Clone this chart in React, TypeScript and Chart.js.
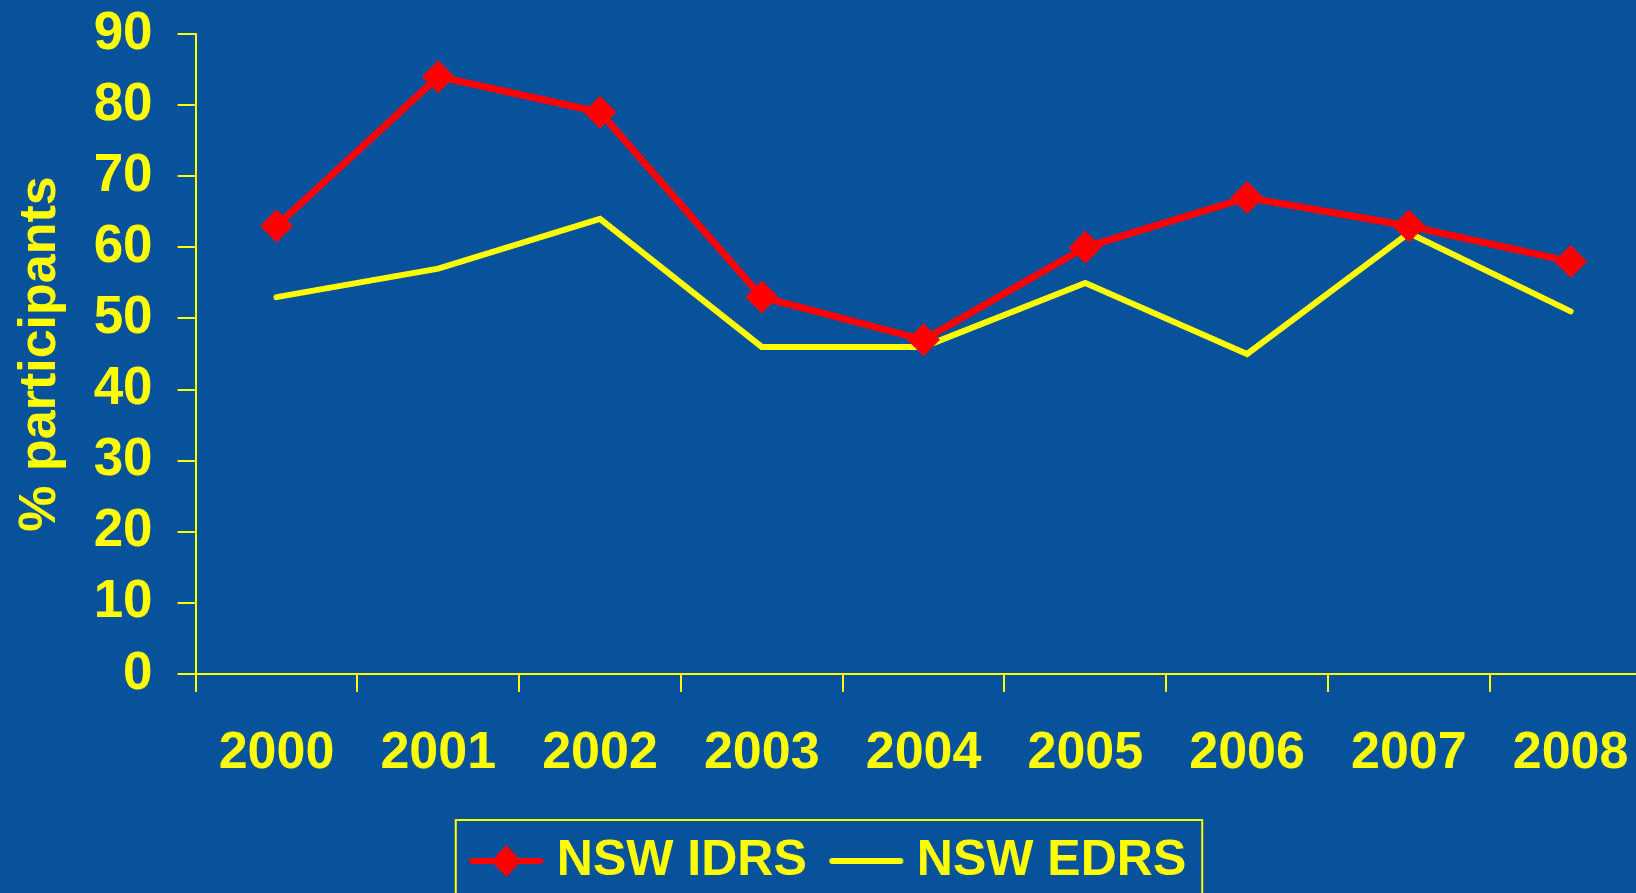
import React, { useEffect, useRef } from "react";
import { Chart, registerables } from "chart.js";

Chart.register(...registerables);

const years = ["2000", "2001", "2002", "2003", "2004", "2005", "2006", "2007", "2008"];
const idrsValues = [63, 84, 79, 53, 47, 60, 67, 63, 58];
const edrsValues = [53, 57, 64, 46, 46, 55, 45, 62, 51];
const seriesLabels = ["NSW IDRS", "NSW EDRS"];
const yTicks = [0, 10, 20, 30, 40, 50, 60, 70, 80, 90];
const yTitle = "% participants";

const BLUE = "#08519b";
const YELLOW = "#ffff00";
const RED = "#ff0000";
const FONT = "'Liberation Sans', Arial, sans-serif";

const CANVAS_W = 1668;
const CANVAS_H = 896;

function makeIcon(color: string, withDiamond: boolean): HTMLCanvasElement {
  const c = document.createElement("canvas");
  c.width = 76;
  c.height = 34;
  const ctx = c.getContext("2d")!;
  ctx.strokeStyle = color;
  ctx.lineWidth = 6;
  ctx.lineCap = "round";
  ctx.beginPath();
  ctx.moveTo(4, 17);
  ctx.lineTo(72, 17);
  ctx.stroke();
  if (withDiamond) {
    ctx.fillStyle = color;
    ctx.beginPath();
    ctx.moveTo(38 - 15, 17);
    ctx.lineTo(38, 17 - 16);
    ctx.lineTo(38 + 15, 17);
    ctx.lineTo(38, 17 + 16);
    ctx.closePath();
    ctx.fill();
  }
  return c;
}

const legendBorder = {
  id: "legendBorder",
  afterDraw(chart: any) {
    const lg = chart.legend;
    const hb = lg && lg.legendHitBoxes;
    if (!hb || !hb.length) return;
    const first = hb[0];
    const last = hb[hb.length - 1];
    const cy = first.top + first.height / 2;
    const left = first.left - 25;
    const right = last.left + last.width + 16;
    const ctx = chart.ctx;
    ctx.save();
    ctx.strokeStyle = YELLOW;
    ctx.lineWidth = 2;
    ctx.strokeRect(left, cy - 41, right - left, 82);
    ctx.restore();
  },
};

export default function App() {
  const ref = useRef<HTMLCanvasElement | null>(null);

  useEffect(() => {
    if (!ref.current) return;
    const icons = [makeIcon(RED, true), makeIcon(YELLOW, false)];
    const chart = new Chart(ref.current, {
      type: "line",
      data: {
        labels: years,
        datasets: [
          {
            label: seriesLabels[0],
            data: idrsValues,
            borderColor: RED,
            backgroundColor: RED,
            borderWidth: 7,
            borderJoinStyle: "miter",
            borderCapStyle: "round",
            pointStyle: "rectRot",
            pointRadius: 16.5,
            pointBorderWidth: 0,
            pointBackgroundColor: RED,
            pointBorderColor: RED,
            tension: 0,
          },
          {
            label: seriesLabels[1],
            data: edrsValues,
            borderColor: YELLOW,
            backgroundColor: YELLOW,
            borderWidth: 6,
            borderJoinStyle: "miter",
            borderCapStyle: "round",
            pointRadius: 0,
            tension: 0,
          },
        ],
      },
      options: {
        responsive: false,
        animation: false,
        events: [],
        layout: { padding: { left: 14.4, right: CANVAS_W - 1652.6, top: 34, bottom: 0 } },
        plugins: {
          tooltip: { enabled: false },
          legend: {
            display: true,
            position: "bottom",
            labels: {
              usePointStyle: true,
              pointStyleWidth: 51,
              padding: 34,
              color: YELLOW,
              font: { family: FONT, size: 50, weight: "bold" },
              generateLabels: (c: any) =>
                c.data.datasets.map((ds: any, i: number) => ({
                  text: ds.label,
                  pointStyle: icons[i],
                  fillStyle: ds.borderColor,
                  strokeStyle: ds.borderColor,
                  lineWidth: 0,
                  hidden: false,
                  datasetIndex: i,
                  fontColor: YELLOW,
                })),
            },
          },
        },
        scales: {
          x: {
            type: "category",
            offset: true,
            afterFit: (s: any) => {
              s.height = 128;
            },
            grid: {
              display: true,
              offset: true,
              drawOnChartArea: false,
              drawTicks: true,
              tickLength: 18,
              color: YELLOW,
              lineWidth: 2,
            },
            border: { display: true, color: YELLOW, width: 2 },
            ticks: {
              color: YELLOW,
              padding: 30,
              maxRotation: 0,
              autoSkip: false,
              font: { family: FONT, size: 52, weight: "bold" },
            },
          },
          y: {
            min: 0,
            max: 90,
            afterFit: (s: any) => {
              s.width = 195.6 - 14.4;
              s.paddingTop = 0;
              s.paddingBottom = 0;
            },
            afterBuildTicks: (s: any) => {
              s.ticks = yTicks.map((v) => ({ value: v }));
            },
            grid: {
              display: true,
              drawOnChartArea: false,
              drawTicks: true,
              tickLength: 18,
              color: YELLOW,
              lineWidth: 2,
            },
            border: { display: true, color: YELLOW, width: 2 },
            ticks: {
              color: YELLOW,
              padding: 25,
              font: { family: FONT, size: 53, weight: "bold" },
            },
            title: {
              display: true,
              text: yTitle,
              color: YELLOW,
              padding: 0,
              font: { family: FONT, size: 52, weight: "bold", lineHeight: 1 },
            },
          },
        },
      },
      plugins: [legendBorder],
    } as any);
    return () => chart.destroy();
  }, []);

  return (
    <div
      style={{
        position: "fixed",
        left: 0,
        top: 0,
        width: "100vw",
        height: "100vh",
        overflow: "hidden",
        background: BLUE,
      }}
    >
      <canvas
        ref={ref}
        width={CANVAS_W}
        height={CANVAS_H}
        style={{ position: "absolute", left: 0, top: 0, width: CANVAS_W + "px", height: CANVAS_H + "px", display: "block" }}
      />
    </div>
  );
}
